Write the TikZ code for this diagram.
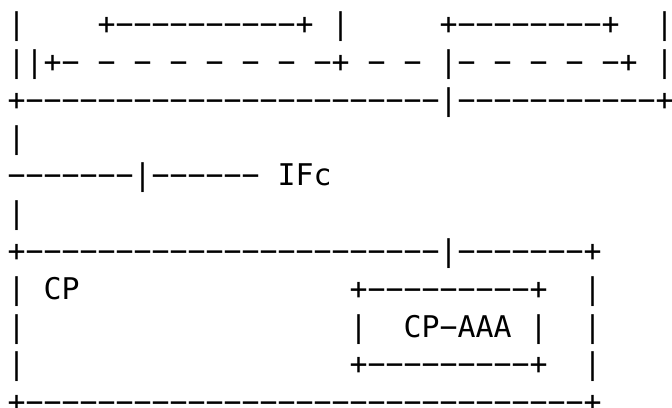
\documentclass[tikz,border=0pt]{standalone}
\usepackage{fontspec}
\setmonofont{DejaVu Sans Mono}
\begin{document}
\begin{tikzpicture}[
  txt/.style={anchor=base west, inner sep=0pt, outer sep=0pt,
    font=\ttfamily\fontsize{29.9pt}{37.8pt}\selectfont}]
\fill[white] (0,0) rectangle (672pt,-407pt);
\useasboundingbox (0,0) rectangle (672pt,-407pt);
\begin{scope}[shift={(7.7pt,-34.7pt)}, x=18pt, y=-37.8pt]
% row 0
\node[txt] (r0a) at (0,0) {|};
\node[txt] (r0b) at (5,0) {+−−−−−−−−−−+};
\node[txt] (r0c) at (18,0) {|};
\node[txt] (r0d) at (24,0) {+−−−−−−−−+};
\node[txt] (r0e) at (36,0) {|};
% row 1
\node[txt] (r1) at (0,1) {||+− − − − − − − −+ − − |− − − − −+ |};
% row 2
\node[txt] (r2) at (0,2) {+−−−−−−−−−−−−−−−−−−−−−−−|−−−−−−−−−−−+};
% row 3
\node[txt] (r3) at (0,3) {|};
% row 4
\node[txt] (r4a) at (0,4) {−−−−−−−|−−−−−−};
\node[txt] (ifc) at (15,4) {IFc};
% row 5
\node[txt] (r5) at (0,5) {|};
% row 6
\node[txt] (r6) at (0,6) {+−−−−−−−−−−−−−−−−−−−−−−−|−−−−−−−+};
% row 7
\node[txt] (r7a) at (0,7) {|};
\node[txt] (cp) at (2,7) {CP};
\node[txt] (r7b) at (19,7) {+−−−−−−−−−+};
\node[txt] (r7c) at (32,7) {|};
% row 8
\node[txt] (r8a) at (0,8) {|};
\node[txt] (r8b) at (19,8) {|};
\node[txt] (cpaaa) at (22,8) {CP−AAA};
\node[txt] (r8c) at (29,8) {|};
\node[txt] (r8d) at (32,8) {|};
% row 9
\node[txt] (r9a) at (0,9) {|};
\node[txt] (r9b) at (19,9) {+−−−−−−−−−+};
\node[txt] (r9c) at (32,9) {|};
% row 10
\node[txt] (r10) at (0,10) {+−−−−−−−−−−−−−−−−−−−−−−−−−−−−−−−+};
\end{scope}
\end{tikzpicture}
\end{document}
